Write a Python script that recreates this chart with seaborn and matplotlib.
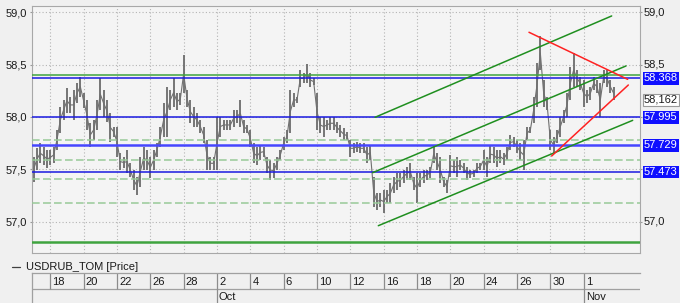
import numpy as np
import pandas as pd
import matplotlib
matplotlib.use("Agg")
import matplotlib.pyplot as plt
import matplotlib.transforms as mtransforms
from matplotlib.lines import Line2D
import seaborn as sns

# ---------------- data ----------------
# price bars every 0.2 trading day, first bar on Sep 15 (day -1)
bar_high = [
    57.620, 57.700, 57.748, 57.716, 57.684, 57.684, 57.716, 57.875, 58.098, 58.162,
    58.274, 58.194, 58.258, 58.321, 58.385, 58.226, 58.162, 57.939, 57.971, 58.162,
    58.369, 58.258, 58.162, 58.035, 57.907, 57.907, 57.652, 57.620, 57.684, 57.557,
    57.493, 57.429, 57.620, 57.716, 57.684, 57.620, 57.684, 57.748, 57.907, 58.130,
    58.289, 58.258, 58.369, 58.226, 58.226, 58.592, 58.258, 58.162, 58.098, 58.035,
    57.971, 57.907, 57.780, 57.620, 57.620, 58.003, 58.003, 57.971, 57.971, 57.971,
    58.066, 58.066, 58.162, 57.971, 57.923, 57.875, 57.748, 57.716, 57.732, 57.716,
    57.620, 57.588, 57.557, 57.620, 57.684, 57.811, 57.875, 58.258, 58.226, 58.194,
    58.449, 58.417, 58.506, 58.417, 58.369, 58.226, 58.003, 58.003, 57.971, 58.003,
    58.003, 57.955, 57.923, 57.891, 57.859, 57.780, 57.748, 57.764, 57.748, 57.748,
    57.716, 57.732, 57.429, 57.270, 57.270, 57.302, 57.302, 57.365, 57.429, 57.461,
    57.461, 57.493, 57.525, 57.557, 57.429, 57.461, 57.461, 57.493, 57.493, 57.525,
    57.732, 57.652, 57.620, 57.429, 57.397, 57.636, 57.588, 57.620, 57.588, 57.557,
    57.525, 57.493, 57.493, 57.557, 57.557, 57.684, 57.620, 57.732, 57.716, 57.684,
    57.684, 57.652, 57.716, 57.827, 57.811, 57.779, 57.748, 57.779, 57.907, 57.907,
    58.194, 58.512, 58.774, 58.353, 58.194, 57.875, 57.811, 57.875, 58.002, 58.066,
    58.226, 58.480, 58.608, 58.449, 58.385, 58.353, 58.257, 58.289, 58.385, 58.353,
    58.321, 58.449, 58.449, 58.353, 58.289,
]
bar_low = [
    57.381, 57.493, 57.557, 57.541, 57.509, 57.541, 57.557, 57.684, 57.843, 57.971,
    58.035, 58.035, 57.971, 58.130, 58.194, 58.082, 57.875, 57.716, 57.780, 57.875,
    58.066, 58.003, 57.955, 57.764, 57.811, 57.620, 57.493, 57.509, 57.461, 57.429,
    57.302, 57.254, 57.333, 57.493, 57.493, 57.413, 57.493, 57.620, 57.716, 57.811,
    57.811, 58.066, 58.098, 58.066, 58.114, 58.230, 58.098, 57.939, 57.907, 57.907,
    57.843, 57.748, 57.493, 57.493, 57.493, 57.493, 57.811, 57.875, 57.875, 57.875,
    57.907, 57.939, 57.907, 57.843, 57.843, 57.716, 57.557, 57.541, 57.588, 57.620,
    57.461, 57.397, 57.413, 57.493, 57.588, 57.684, 57.748, 57.843, 58.098, 58.130,
    58.289, 58.321, 58.321, 58.289, 58.305, 57.875, 57.843, 57.811, 57.875, 57.875,
    57.875, 57.843, 57.811, 57.780, 57.780, 57.620, 57.652, 57.668, 57.652, 57.652,
    57.557, 57.588, 57.142, 57.110, 57.142, 57.079, 57.174, 57.174, 57.270, 57.302,
    57.333, 57.365, 57.397, 57.397, 57.302, 57.174, 57.333, 57.365, 57.397, 57.413,
    57.557, 57.493, 57.365, 57.333, 57.270, 57.429, 57.461, 57.429, 57.493, 57.461,
    57.397, 57.413, 57.429, 57.461, 57.493, 57.493, 57.429, 57.556, 57.556, 57.524,
    57.556, 57.540, 57.588, 57.684, 57.716, 57.652, 57.588, 57.493, 57.779, 57.843,
    57.939, 58.098, 58.449, 58.098, 58.066, 57.684, 57.652, 57.748, 57.811, 57.939,
    58.002, 58.162, 58.289, 58.289, 58.257, 58.098, 58.130, 58.162, 58.257, 58.226,
    58.002, 58.321, 58.289, 58.226, 58.162,
]
bar_step = 0.2
first_bar_day = -1.0

day_labels = ["18", "20", "22", "26", "28", "2", "4", "6", "10", "12",
              "16", "18", "20", "24", "26", "30", "1"]
label_step_days = 2
month_labels = ["Oct", "Nov"]
month_label_pos = [5, 16]          # index into day_labels

y_ticks = [59.0, 58.5, 58.0, 57.5, 57.0]
right_ticks = [59.0, 58.5, 57.0]   # the others are hidden behind value boxes
blue_levels = [58.368, 57.995, 57.729, 57.473]
blue_widths = [1.1, 1.1, 1.8, 1.1]
green_levels = [58.40, 56.80]
green_widths = [1.1, 1.8]
dashed_levels = [57.782, 57.591, 57.403, 57.174]
last_price = 58.162

channel_start_day = [19.48, 19.34, 19.68]
channel_start_price = [57.996, 57.467, 56.960]
channel_end_day = [33.68, 34.54, 34.94]
channel_end_price = [58.965, 58.487, 57.967]

red_start_day = [28.72, 30.08]
red_start_price = [58.809, 57.626]
red_end_day = [34.64, 34.68]
red_end_price = [58.359, 58.305]

series_name = "USDRUB_TOM [Price]"

# ---------------- style ----------------
sns.set_style("white")
plt.rcParams["font.family"] = ["Liberation Sans", "DejaVu Sans"]
plt.rcParams["font.size"] = 8

W, H = 680, 303
fig = plt.figure(figsize=(W / 100, H / 100), dpi=100, facecolor="#f0f0f0")
ax = fig.add_axes([32 / W, 1 - 253 / H, 608 / W, (253 - 5.7) / H])
ax.set_facecolor("#f4f4f4")
xmin, xmax = -1.098, 35.38
ax.set_xlim(xmin, xmax)
ax.set_ylim(56.699, 59.063)

n = len(bar_high)
days = first_bar_day + bar_step * np.arange(n)
df = pd.DataFrame({"day": days, "high": bar_high, "low": bar_low})
df["mid"] = (df["high"] + df["low"]) / 2

def fmt(v):
    return f"{v:.1f}".replace(".", ",")

# grid
tick_days = label_step_days * np.arange(len(day_labels))
for d in tick_days:
    ax.axvline(d, color="#b4b4b4", lw=0.8, ls=(0, (1, 2)), zorder=1)
for v in y_ticks:
    ax.axhline(v, color="#b4b4b4", lw=0.8, ls=(0, (1, 2)), zorder=1)

# price bars
ax.vlines(df["day"], df["low"], df["high"], color="#707070", lw=1.35, zorder=2)
sns.lineplot(data=df, x="day", y="mid", ax=ax, color="#707070", lw=0.8,
             estimator=None, sort=False, zorder=2, legend=False)

# horizontal levels
for v in dashed_levels:
    ax.axhline(v, color="#98c998", lw=1.1, ls=(0, (5, 2.2)), zorder=3)
for v, w in zip(green_levels, green_widths):
    ax.axhline(v, color="#3fa43f", lw=w, zorder=3)
for v, w in zip(blue_levels, blue_widths):
    ax.axhline(v, color="#1a1ae0" if w < 1.5 else "#4646ff", lw=w, zorder=3)

# trend channel and triangle
for sd, sp, ed, ep in zip(channel_start_day, channel_start_price, channel_end_day, channel_end_price):
    sns.lineplot(x=[sd, ed], y=[sp, ep], ax=ax, color="#1f8f1f", lw=1.1, zorder=4)
for sd, sp, ed, ep in zip(red_start_day, red_start_price, red_end_day, red_end_price):
    sns.lineplot(x=[sd, ed], y=[sp, ep], ax=ax, color="#ff2222", lw=1.1, zorder=4)

ax.set_xlabel("")
ax.set_ylabel("")
ax.set_xticks(tick_days)
ax.tick_params(axis="x", bottom=False, labelbottom=False)
ax.set_yticks(y_ticks)
ax.set_yticklabels([fmt(v) for v in y_ticks])
ax.tick_params(axis="y", left=True, right=True, labelleft=True, labelright=False,
               length=1.5, pad=2, labelsize=8, colors="#9a9a9a", labelcolor="#1a1a1a")
for s in ax.spines.values():
    s.set_color("#a8a8a8")
    s.set_linewidth(0.8)

# right-side labels and value boxes
trans = mtransforms.blended_transform_factory(ax.transAxes, ax.transData)
xlab = (644 - 32) / 608
for v in right_ticks:
    ax.text(xlab, v, fmt(v), transform=trans, ha="left", va="center",
            color="#1a1a1a", fontsize=8, clip_on=False)
for v in blue_levels:
    ax.text(xlab, v, f"{v:.3f}", transform=trans, ha="left", va="center",
            color="white", fontsize=8, clip_on=False, zorder=10,
            bbox=dict(boxstyle="square,pad=0.12", fc="#0f0fff", ec="none"))
ax.text(xlab, last_price, f"{last_price:.3f}".replace(".", ","), transform=trans,
        ha="left", va="center", color="#1a1a1a", fontsize=8, clip_on=False, zorder=10,
        bbox=dict(boxstyle="square,pad=0.12", fc="white", ec="#9a9a9a", lw=0.8))

# legend line
ly = 1 - 267 / H
fig.add_artist(Line2D([12 / W, 20 / W], [ly, ly], color="#404040", lw=0.9))
fig.text(26 / W, ly, series_name, ha="left", va="center", fontsize=8, color="#1a1a1a")

# date table
tax = fig.add_axes([32 / W, 0, 608 / W, 30 / H])
tax.set_xlim(xmin, xmax)
tax.set_ylim(0, 1)
tax.patch.set_alpha(0)
tax.set_xticks([])
tax.set_yticks([])
for k in ["right", "bottom"]:
    tax.spines[k].set_visible(False)
for k in ["top", "left"]:
    tax.spines[k].set_color("#a0a0a0")
    tax.spines[k].set_linewidth(0.9)
mid_y = (303 - 289.3) / 30
tax.axhline(mid_y, color="#a0a0a0", lw=0.9)
for d, lab in zip(tick_days, day_labels):
    tax.vlines(d, mid_y, 1, color="#8c8c8c", lw=0.9)
    tax.text(d + 0.12, 0.70, lab, ha="left", va="center", fontsize=8, color="#1a1a1a")
for idx, lab in zip(month_label_pos, month_labels):
    d = tick_days[idx]
    tax.vlines(d, 0, mid_y, color="#8c8c8c", lw=0.9)
    tax.text(d + 0.12, 0.2, lab, ha="left", va="center", fontsize=8, color="#1a1a1a")

fig.savefig("out.png", dpi=100, facecolor=fig.get_facecolor())
